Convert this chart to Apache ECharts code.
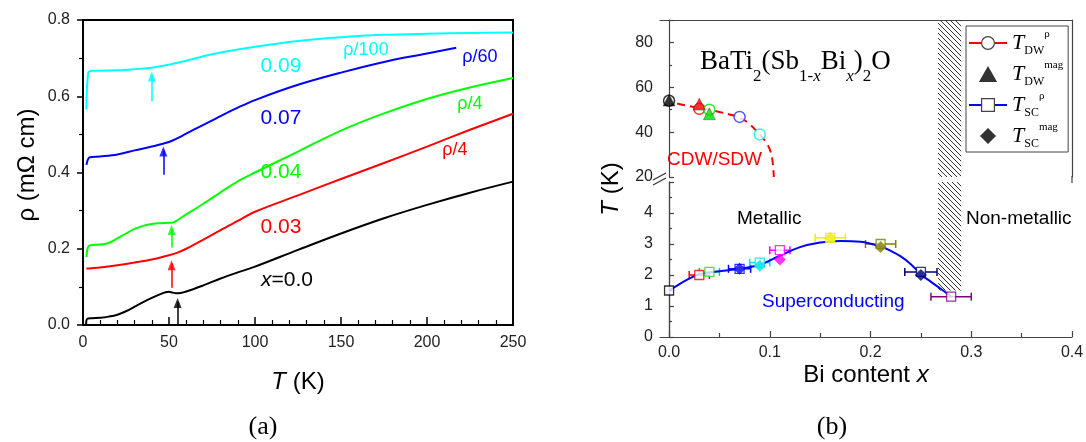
<!DOCTYPE html>
<html>
<head>
<meta charset="utf-8">
<script src="https://cdn.jsdelivr.net/npm/echarts@6.0.0/dist/echarts.min.js"></script>
<style>
html,body{margin:0;padding:0;background:#fff;}
#chart{width:1086px;height:442px;}
</style>
</head>
<body>
<div id="chart"></div>
<script>
// ===== Panel (a): rho (mOhm cm) vs T (K) =====
const rhoX000 = [[1.8,0.0],[2.4,0.016],[5,0.018],[10,0.019],[15,0.022],[20,0.027],[25,0.036],[30,0.048],[35,0.06],[40,0.071],[45,0.081],[48,0.086],[50,0.087],[52,0.085],[55,0.083],[60,0.088],[70,0.104],[80,0.122],[90,0.138],[100,0.153],[125,0.197],[150,0.24],[175,0.28],[200,0.315],[225,0.347],[250,0.376]];
const rhoX003 = [[2,0.148],[5,0.149],[10,0.151],[20,0.157],[30,0.164],[40,0.172],[50,0.183],[55,0.19],[60,0.2],[70,0.224],[80,0.249],[90,0.273],[100,0.297],[125,0.34],[150,0.383],[175,0.425],[200,0.468],[225,0.512],[250,0.554]];
const rhoX004 = [[2,0.178],[3,0.205],[5,0.21],[10,0.211],[15,0.215],[20,0.227],[25,0.24],[30,0.252],[35,0.26],[40,0.265],[45,0.267],[50,0.268],[53,0.27],[60,0.29],[70,0.318],[80,0.348],[90,0.377],[100,0.4],[125,0.455],[150,0.51],[175,0.555],[200,0.593],[225,0.623],[250,0.648]];
const rhoX007 = [[2,0.42],[4,0.44],[10,0.442],[20,0.447],[30,0.458],[40,0.468],[50,0.48],[55,0.49],[60,0.502],[70,0.525],[80,0.548],[90,0.57],[100,0.59],[125,0.63],[150,0.662],[175,0.69],[200,0.712],[217,0.727]];
const rhoX009 = [[2,0.565],[3,0.66],[5,0.667],[10,0.667],[20,0.668],[30,0.671],[40,0.675],[50,0.683],[60,0.693],[70,0.705],[80,0.715],[100,0.73],[125,0.745],[150,0.755],[175,0.761],[200,0.764],[225,0.766],[250,0.767]];
const arrowT    = [55, 51.5, 51.5, 46.7, 40];
const arrowFrom = [0.0, 0.098, 0.203, 0.394, 0.586];
const arrowTo   = [0.071, 0.170, 0.262, 0.468, 0.665];

// ===== Panel (b): phase diagram T vs Bi content x =====
const dwCurveX = [0.008, 0.02, 0.03, 0.04, 0.05, 0.06, 0.07, 0.08, 0.09, 0.097, 0.101, 0.103, 0.104];
const dwCurveT = [52.8, 51.6, 50.8, 50.0, 49.0, 47.9, 46.6, 43.5, 38.9, 35, 31, 26, 20];
const dwRhoX = [0, 0.03, 0.04, 0.07, 0.09];
const dwRhoT = [54.0, 50.4, 50.0, 46.8, 39.0];
const dwMagX = [0, 0.03, 0.04];
const dwMagT = [54.3, 52.5, 48.2];
const scCurveX = [0.0, 0.01, 0.02, 0.03, 0.05, 0.07, 0.09, 0.11, 0.13, 0.15, 0.17, 0.19, 0.21, 0.22, 0.23, 0.24, 0.25, 0.26, 0.27, 0.28];
const scCurveT = [1.5, 1.7, 1.88, 2.02, 2.12, 2.2, 2.33, 2.62, 2.9, 3.05, 3.1, 3.07, 2.92, 2.78, 2.6, 2.35, 2.02, 1.78, 1.55, 1.3];
const scRhoX = [0, 0.03, 0.04, 0.07, 0.09, 0.11, 0.16, 0.21, 0.25, 0.28];
const scRhoT = [1.5, 2.0, 2.1, 2.2, 2.4, 2.8, 3.2, 3.0, 2.1, 1.3];
const scRhoErr = [0, 0.01, 0.01, 0.011, 0.01, 0.01, 0.015, 0.015, 0.016, 0.02];
const scMagX = [0.07, 0.09, 0.11, 0.16, 0.21, 0.25];
const scMagT = [2.2, 2.3, 2.5, 3.2, 2.9, 2.0];
const hatchX = [0.267, 0.29];
const hatchLowT = [1.5, 5];
const hatchHighT = [20, 90];
const xTicksB = [0, 0.1, 0.2, 0.3, 0.4];
const xMinorB = [0.05, 0.15, 0.25, 0.35];

// ===== styles =====
const curveColors = ['#000000', '#ff0000', '#00ff00', '#0000ff', '#00ffff'];
const dwRhoColors = ['#000000', '#ff0000', '#00dd00', '#2233ff', '#00eeee'];
const dwMagColors = ['#000000', '#ff0000', '#00dd00'];
const scRhoColors = ['#000000', '#ff0000', '#22dd22', '#0000ff', '#00e5e5', '#ff00ff', '#eeee00', '#808000', '#000080', '#800080'];
const scMagColors = ['#0000ff', '#00e5e5', '#ff00ff', '#eeee00', '#808000', '#000080'];
const SANS = 'Liberation Sans';
const SERIF = 'Liberation Serif';

const pat = document.createElement('canvas');
pat.width = 5; pat.height = 5;
(function(){const g = pat.getContext('2d'); g.strokeStyle = '#333'; g.lineWidth = 1;
  g.beginPath(); g.moveTo(-1,-1); g.lineTo(6,6); g.stroke();})();

const chart = echarts.init(document.getElementById('chart'), null, {renderer:'canvas'});

const leftSeries = [rhoX000, rhoX003, rhoX004, rhoX007, rhoX009].map((d, i) => ({
  type:'line', xAxisIndex:0, yAxisIndex:0, data:d, showSymbol:false, symbol:'none',
  smooth:0.35,
  lineStyle:{color:curveColors[i], width:2}, itemStyle:{color:curveColors[i]},
  markLine:{silent:true, symbol:['none','none'], label:{show:false},
    lineStyle:{color:curveColors[i], width:1.5, type:'solid'}, emphasis:{disabled:true},
    data:[[{coord:[arrowT[i], arrowFrom[i]]},{coord:[arrowT[i], arrowTo[i] - 0.01]}]]}
}));
const arrowHeads = {
  name:'arrowHeads', type:'scatter', xAxisIndex:0, yAxisIndex:0, symbol:'triangle', symbolSize:[8,10],
  symbolOffset:[0,'50%'], z:4, silent:true,
  data:arrowT.map((t,i)=>({value:[t, arrowTo[i]], itemStyle:{color:curveColors[i]}}))
};

function renderErr(params, api){
  const i = params.dataIndex;
  const x = api.value(0), y = api.value(1), e = api.value(2);
  if (!e) return {type:'group', children:[]};
  const p0 = api.coord([x - e, y]), p1 = api.coord([x + e, y]);
  const st = {stroke: scRhoColors[i], lineWidth:1.5};
  return {type:'group', children:[
    {type:'line', shape:{x1:p0[0], y1:p0[1], x2:p1[0], y2:p1[1]}, style:st},
    {type:'line', shape:{x1:p0[0], y1:p0[1]-4, x2:p0[0], y2:p0[1]+4}, style:st},
    {type:'line', shape:{x1:p1[0], y1:p1[1]-4, x2:p1[0], y2:p1[1]+4}, style:st}
  ]};
}

const legendText = {
  TDWr:'{t|T}{s|DW}{p|ρ}', TDWm:'{t|T}{s|DW}{p|mag}',
  TSCr:'{t|T}{s|SC}{p|ρ}', TSCm:'{t|T}{s|SC}{p|mag}'
};

const sansTxt = (x, y, text, color, size, extra) => Object.assign({type:'text', x:x, y:y, silent:true,
  style:Object.assign({text:text, fill:color, fontSize:size, fontFamily:SANS, align:'center', verticalAlign:'middle'}, extra || {})});

const graphics = [
  sansTxt(281, 66, '0.09', '#00ffff', 21),
  sansTxt(281, 118, '0.07', '#0000ff', 21),
  sansTxt(281, 172, '0.04', '#00ff00', 21),
  sansTxt(281, 227, '0.03', '#ff0000', 21),
  sansTxt(287, 280, '{i|x}=0.0', '#000', 21, {rich:{i:{fontStyle:'italic', fontSize:21, fontFamily:SANS, fill:'#000'}}}),
  sansTxt(366, 50, 'ρ/100', '#00ffff', 18),
  sansTxt(480, 57, 'ρ/60', '#0000ff', 18),
  sansTxt(470, 104, 'ρ/4', '#00ff00', 18),
  sansTxt(455, 150, 'ρ/4', '#ff0000', 18),
  Object.assign(sansTxt(27, 165, 'ρ (mΩ cm)', '#000', 24), {rotation:Math.PI/2}),
  {type:'text', x:263, y:427, silent:true, style:{text:'(a)', fill:'#000', fontSize:26, fontFamily:SERIF, align:'center', verticalAlign:'middle'}},
  {type:'text', x:832, y:427, silent:true, style:{text:'(b)', fill:'#000', fontSize:26, fontFamily:SERIF, align:'center', verticalAlign:'middle'}},
  Object.assign(sansTxt(611, 189, '{i|T} (K)', '#000', 24, {rich:{i:{fontStyle:'italic', fontSize:24, fontFamily:SANS, fill:'#000'}}}), {rotation:Math.PI/2}),
  {type:'text', x:700, y:62, silent:true, style:{
    text:'{m|BaTi}{s|2}{m|(Sb}{s|1-}{si|x}{m|Bi}{si|x}{m|)}{s|2}{m|O}',
    fill:'#000', align:'left', verticalAlign:'middle',
    rich:{
      m:{fontFamily:SERIF, fontSize:27, lineHeight:46, verticalAlign:'middle', fill:'#000'},
      s:{fontFamily:SERIF, fontSize:17, verticalAlign:'bottom', fill:'#000'},
      si:{fontFamily:SERIF, fontSize:17, fontStyle:'italic', verticalAlign:'bottom', fill:'#000'}
    }}},
  sansTxt(667, 160, 'CDW/SDW', '#ff0000', 19, {align:'left'}),
  sansTxt(737, 219, 'Metallic', '#000', 19, {align:'left'}),
  sansTxt(966, 219, 'Non-metallic', '#000', 19, {align:'left'}),
  sansTxt(762, 302, 'Superconducting', '#0000ff', 19, {align:'left'}),
  {type:'line', silent:true, shape:{x1:653, y1:180, x2:666, y2:173}, style:{stroke:'#333', lineWidth:1.2}},
  {type:'line', silent:true, shape:{x1:653, y1:185, x2:666, y2:178}, style:{stroke:'#333', lineWidth:1.2}},
  {type:'line', silent:true, shape:{x1:1072, y1:176, x2:1072, y2:183}, style:{stroke:'#444', lineWidth:1.2}}
];

const axisFont = {fontFamily:SANS, fontSize:16, color:'#222'};
const rLine = {show:true, lineStyle:{color:'#444', width:1.2}};

const option = {
  animation:false,
  backgroundColor:'#fff',
  grid:[
    {left:83, top:20, width:430, height:305, show:true, borderColor:'#000', borderWidth:2, backgroundColor:'transparent', outerBoundsMode:'none'},
    {left:660, top:182, width:412, height:155, outerBoundsMode:'none'},
    {left:660, top:20, width:412, height:157, outerBoundsMode:'none'}
  ],
  xAxis:[
    {gridIndex:0, type:'value', min:0, max:250, interval:50, position:'bottom',
     axisLine:{show:true, lineStyle:{color:'#000', width:2}},
     axisTick:{show:true, inside:true, length:8, lineStyle:{color:'#000', width:1.5}},
     minorTick:{show:true, splitNumber:5, length:5, lineStyle:{color:'#000', width:1.2}},
     axisLabel:Object.assign({margin:10}, axisFont), splitLine:{show:false}, minorSplitLine:{show:false},
     name:'{i|T} (K)', nameLocation:'middle', nameGap:45,
     nameTextStyle:{fontFamily:SANS, fontSize:24, color:'#000', rich:{i:{fontStyle:'italic', fontFamily:SANS, fontSize:24, color:'#000'}}}},
    {gridIndex:1, type:'value', min:-0.009, max:0.4, position:'bottom',
     axisLine:rLine,
     axisTick:{show:true, inside:true, length:6, customValues:xTicksB, lineStyle:{color:'#444', width:1.2}},
     axisLabel:Object.assign({margin:8, customValues:xTicksB, formatter:v => v.toFixed(1)}, axisFont),
     splitLine:{show:false},
     name:'Bi content {i|x}', nameLocation:'middle', nameGap:26,
     nameTextStyle:{fontFamily:SANS, fontSize:24, color:'#000', rich:{i:{fontStyle:'italic', fontFamily:SANS, fontSize:24, color:'#000'}}}},
    {gridIndex:1, type:'value', min:-0.009, max:0.4, position:'bottom', offset:0,
     axisLine:{show:false},
     axisTick:{show:true, inside:true, length:4, customValues:xMinorB, lineStyle:{color:'#444', width:1.2}},
     axisLabel:{show:false}, splitLine:{show:false}},
    {gridIndex:2, type:'value', min:-0.009, max:0.4, position:'top',
     axisLine:rLine, axisTick:{show:false}, axisLabel:{show:false}, splitLine:{show:false}}
  ],
  yAxis:[
    {gridIndex:0, type:'value', min:0, max:0.8, interval:0.2,
     axisLine:{show:true, lineStyle:{color:'#000', width:2}},
     axisTick:{show:true, inside:false, length:6, lineStyle:{color:'#000', width:1.5}},
     minorTick:{show:true, splitNumber:2, length:4, lineStyle:{color:'#000', width:1.2}},
     axisLabel:Object.assign({margin:13, formatter:v => v.toFixed(1)}, axisFont),
     splitLine:{show:false}, minorSplitLine:{show:false}},
    {gridIndex:1, type:'value', min:0, max:5, interval:1, position:'left',
     axisLine:rLine,
     axisTick:{show:true, inside:true, length:5, lineStyle:{color:'#444', width:1.2}},
     minorTick:{show:true, splitNumber:2, length:3, lineStyle:{color:'#444', width:1.2}},
     axisLabel:Object.assign({margin:7, formatter:v => (v <= 4 ? String(v) : '')}, axisFont),
     splitLine:{show:false}, minorSplitLine:{show:false}},
    {gridIndex:1, type:'value', min:0, max:5, position:'right',
     axisLine:rLine, axisTick:{show:false}, axisLabel:{show:false}, splitLine:{show:false}},
    {gridIndex:2, type:'value', min:20, max:90, interval:20, position:'left',
     axisLine:rLine,
     axisTick:{show:true, inside:true, length:5, lineStyle:{color:'#444', width:1.2}},
     minorTick:{show:true, splitNumber:2, length:3, lineStyle:{color:'#444', width:1.2}},
     axisLabel:Object.assign({margin:7, formatter:v => (v % 20 === 0 && v <= 80 ? String(v) : '')}, axisFont),
     splitLine:{show:false}, minorSplitLine:{show:false}},
    {gridIndex:2, type:'value', min:20, max:90, position:'right',
     axisLine:rLine, axisTick:{show:false}, axisLabel:{show:false}, splitLine:{show:false}}
  ],
  legend:{
    orient:'vertical', left:966, top:26, padding:[3,5,2,2],
    itemWidth:38, itemHeight:16, itemGap:3, symbolKeepAspect:true,
    backgroundColor:'#fff', borderColor:'#444', borderWidth:1, borderRadius:0,
    selectedMode:false,
    data:[
      {name:'TDWr', itemStyle:{color:'#fff', borderColor:'#444', borderWidth:1.2}, lineStyle:{type:'solid', color:'#ff0000', width:2}},
      {name:'TDWm', icon:'path://M8,0 L16,14 L0,14 Z', itemStyle:{color:'#000', borderWidth:0}},
      {name:'TSCr', itemStyle:{color:'#fff', borderColor:'#444', borderWidth:1.2}, lineStyle:{type:'solid', color:'#0000ff', width:2}},
      {name:'TSCm', icon:'path://M8,0 L16,8 L8,16 L0,8 Z', itemStyle:{color:'#000', borderWidth:0}}
    ],
    formatter: n => legendText[n],
    textStyle:{fontFamily:SERIF, color:'#000', rich:{
      t:{fontFamily:SERIF, fontStyle:'italic', fontSize:22, lineHeight:28, verticalAlign:'middle', color:'#000'},
      s:{fontFamily:SERIF, fontSize:12, verticalAlign:'bottom', color:'#000'},
      p:{fontFamily:SERIF, fontSize:11, verticalAlign:'top', color:'#000'}
    }}
  },
  graphic:graphics,
  series: leftSeries.concat([arrowHeads,
    {name:'TDWr', type:'line', xAxisIndex:3, yAxisIndex:3,
     data:dwCurveX.map((x,i)=>[x, dwCurveT[i]]), symbol:'circle', showSymbol:false, smooth:0.4,
     lineStyle:{color:'#ff0000', width:2, type:[8,5]}, itemStyle:{color:'#fff', borderColor:'#444'},
     markArea:{silent:true, label:{show:false}, itemStyle:{color:{image:pat, repeat:'repeat'}, opacity:1, borderWidth:0},
       data:[[{xAxis:hatchX[0], yAxis:hatchHighT[0]},{xAxis:hatchX[1], yAxis:hatchHighT[1]}]]}},
    {name:'dwCircles', type:'scatter', xAxisIndex:3, yAxisIndex:3, symbol:'circle', symbolSize:11, z:3,
     data:dwRhoX.map((x,i)=>({value:[x, dwRhoT[i]], itemStyle:{color:'#fff', borderColor:dwRhoColors[i], borderWidth:1.5}}))},
    {name:'TDWm', type:'scatter', xAxisIndex:3, yAxisIndex:3, symbol:'triangle', symbolSize:12, z:4,
     symbolKeepAspect:true, itemStyle:{color:'#000'},
     data:dwMagX.map((x,i)=>({value:[x, dwMagT[i]], itemStyle:{color:dwMagColors[i], borderColor:'#333', borderWidth:0.5}}))},
    {name:'TSCr', type:'line', xAxisIndex:1, yAxisIndex:1,
     data:scCurveX.map((x,i)=>[x, scCurveT[i]]), symbol:'rect', showSymbol:false, smooth:0.4,
     lineStyle:{color:'#0000ff', width:2}, itemStyle:{color:'#fff', borderColor:'#444'},
     markArea:{silent:true, label:{show:false}, itemStyle:{color:{image:pat, repeat:'repeat'}, opacity:1, borderWidth:0},
       data:[[{xAxis:hatchX[0], yAxis:hatchLowT[0]},{xAxis:hatchX[1], yAxis:hatchLowT[1]}]]}},
    {name:'errBars', type:'custom', xAxisIndex:1, yAxisIndex:1, renderItem:renderErr, z:3,
     data:scRhoX.map((x,i)=>[x, scRhoT[i], scRhoErr[i]])},
    {name:'scSquares', type:'scatter', xAxisIndex:1, yAxisIndex:1, symbol:'rect', symbolSize:9, z:4,
     data:scRhoX.map((x,i)=>({value:[x, scRhoT[i]], itemStyle:{color:'#fff', borderColor:scRhoColors[i], borderWidth:1.3}}))},
    {name:'TSCm', type:'scatter', xAxisIndex:1, yAxisIndex:1, symbol:'diamond', symbolSize:12, z:5,
     symbolKeepAspect:true, itemStyle:{color:'#000'},
     data:scMagX.map((x,i)=>({value:[x, scMagT[i]], itemStyle:{color:scMagColors[i]}}))}
  ])
};
chart.setOption(option);
</script>
</body>
</html>
